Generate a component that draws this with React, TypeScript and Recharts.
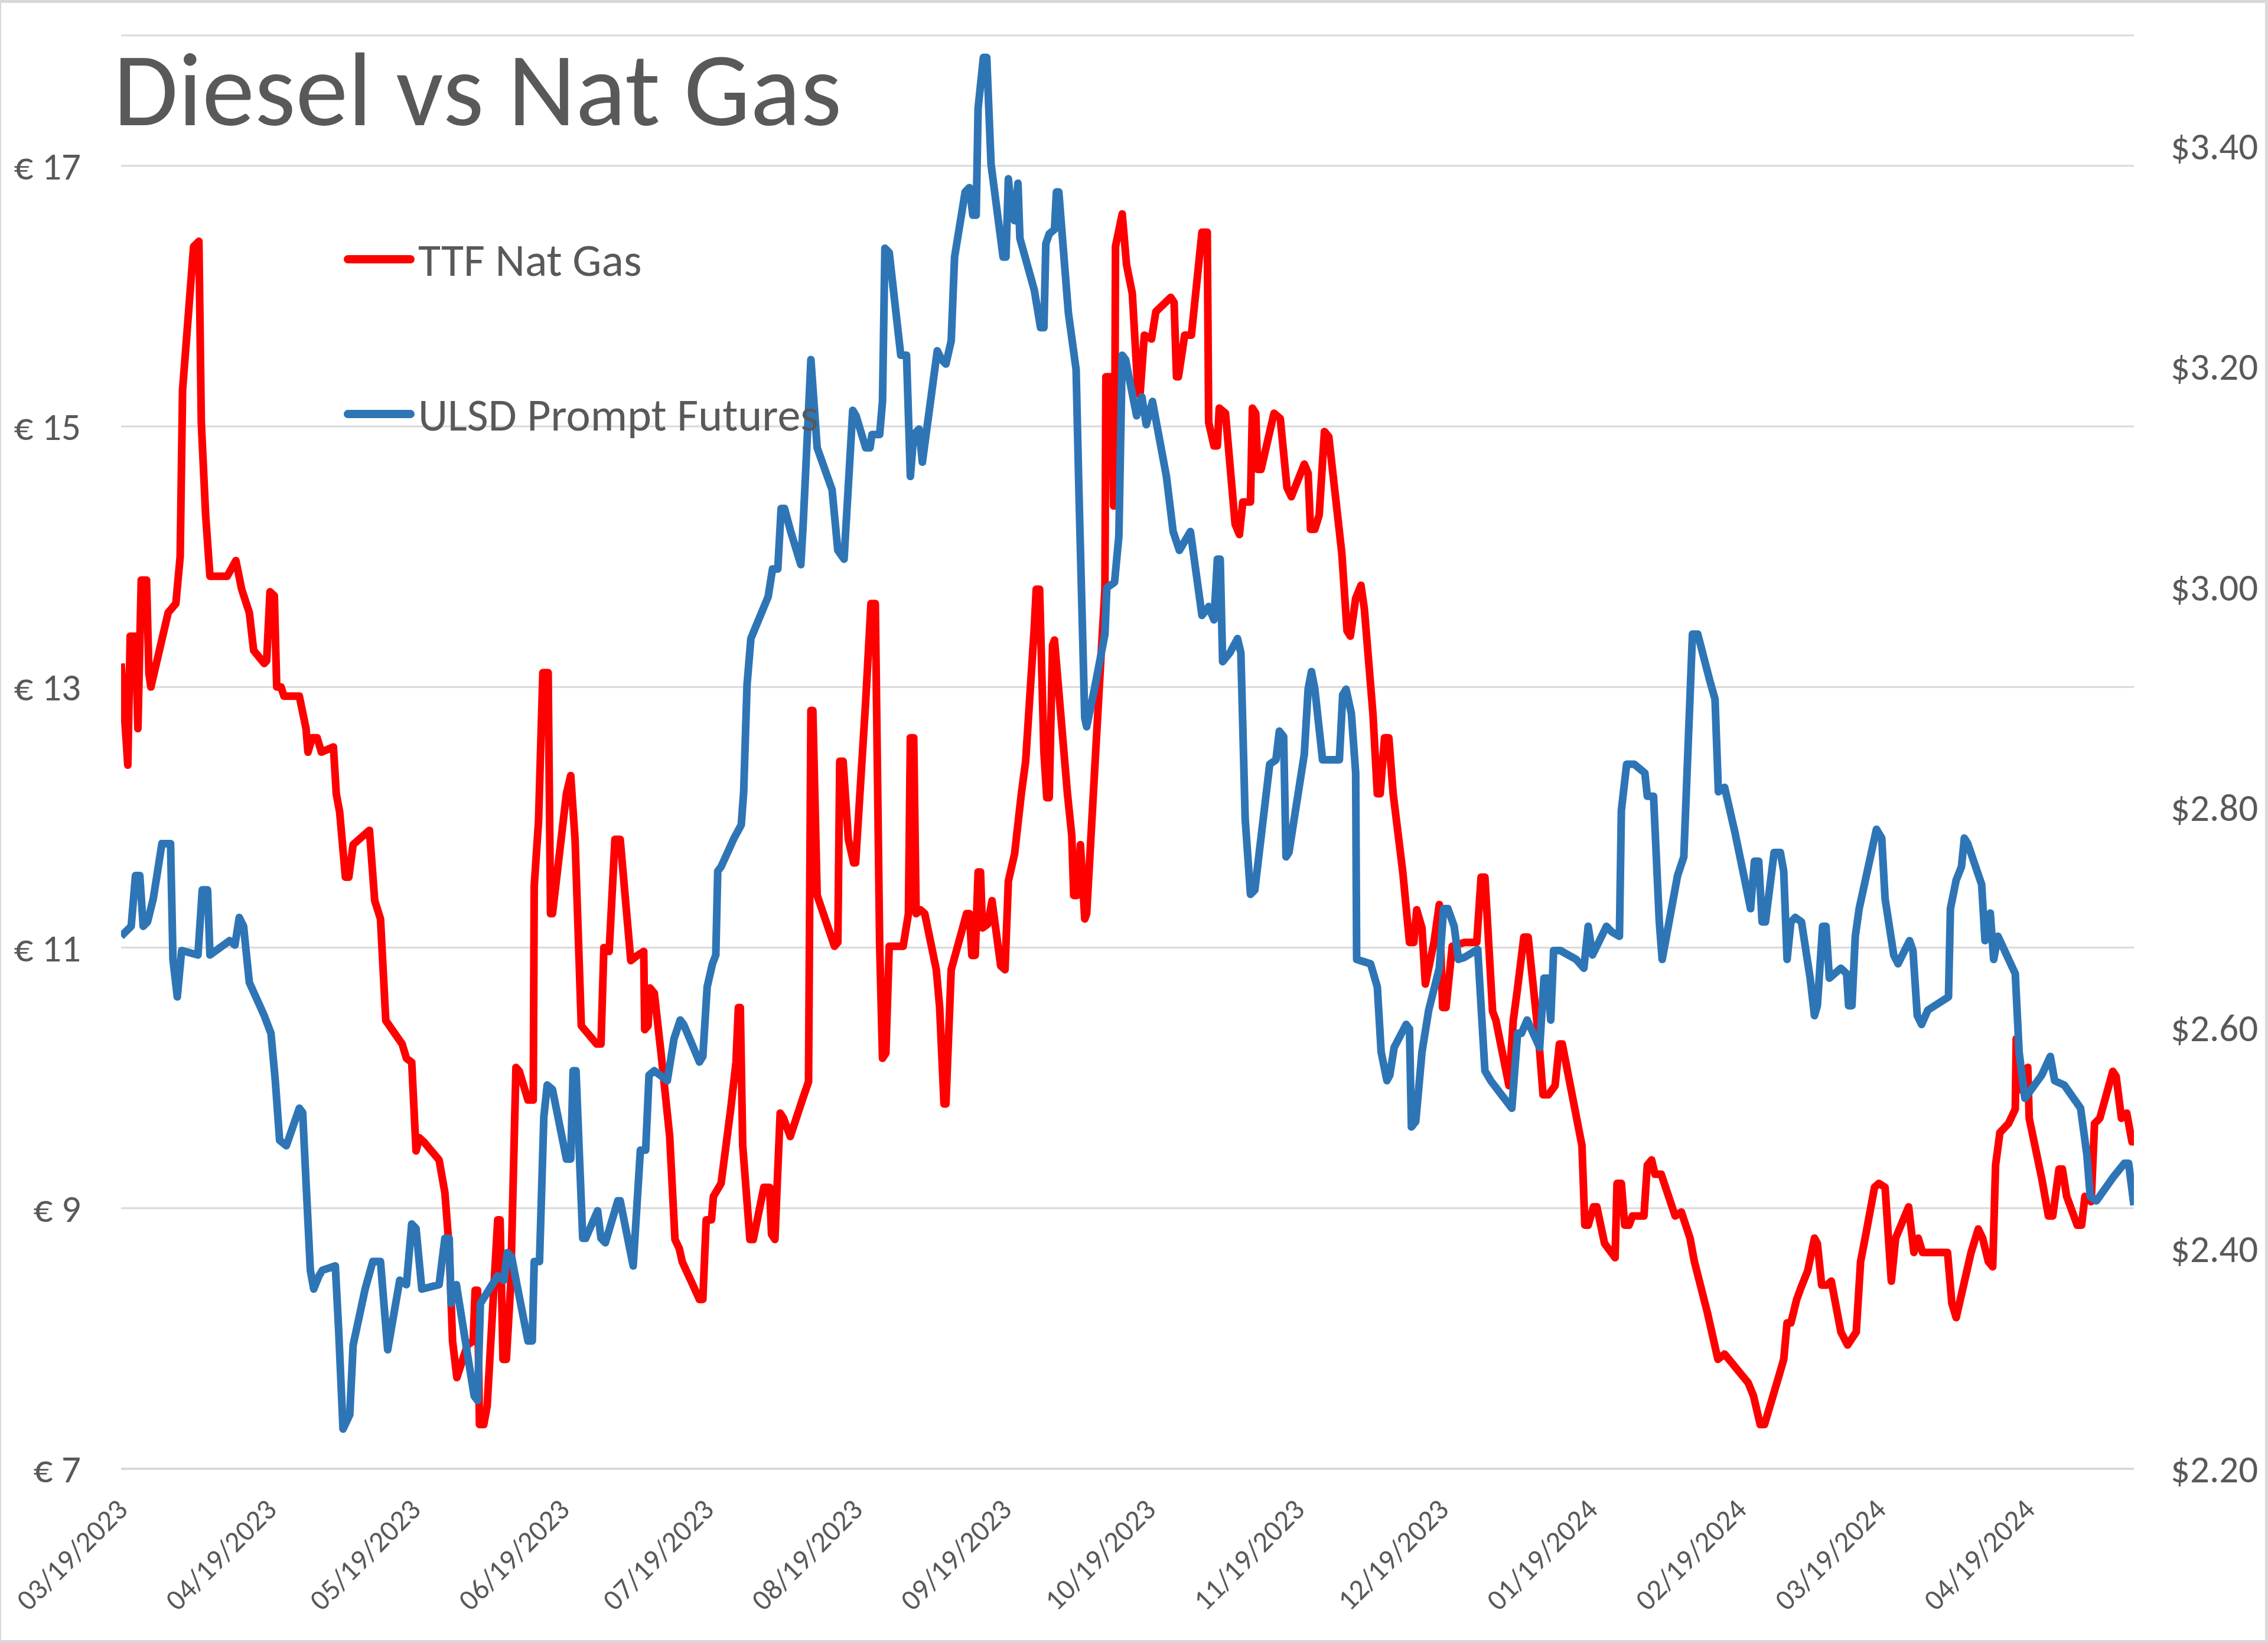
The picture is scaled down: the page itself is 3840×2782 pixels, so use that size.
import React from 'react'
import { LineChart, Line, XAxis, YAxis, CartesianGrid, Legend } from 'recharts'

// axis dates, counted in days from the first date
const START = Date.UTC(2023, 2, 19)
const DAY_MS = 86400000

const tickLabels = [
  '03/19/2023', '04/19/2023', '05/19/2023', '06/19/2023', '07/19/2023', '08/19/2023', '09/19/2023',
  '10/19/2023', '11/19/2023', '12/19/2023', '01/19/2024', '02/19/2024', '03/19/2024', '04/19/2024',
]

const euroTicks = [7, 9, 11, 13, 15, 17]
const dollarTicks = [2.2, 2.4, 2.6, 2.8, 3.0, 3.2, 3.4]

// TTF Nat Gas (left axis, EUR)
const ttfDays = [
  0, 1.4, 1.9, 3.0, 3.5, 4.2, 5.3, 5.8, 6.2, 9.8, 11.4, 12.3, 12.8, 15.1, 16.2, 16.7, 17.6, 18.5, 22.1, 23.9,
  25.1, 26.7, 27.6, 29.8, 30.3, 31.0, 31.9, 32.4, 33.3, 33.9, 37.1, 38.5, 38.9, 39.8, 40.8, 41.7, 44.2, 44.8, 45.5, 46.7,
  47.4, 48.3, 51.7, 52.8, 54.0, 55.1, 58.5, 59.4, 60.5, 61.4, 62.1, 63.0, 66.2, 67.4, 68.3, 69.0, 69.9, 72.1, 73.3, 73.7,
  74.2, 74.6, 75.5, 76.2, 78.4, 78.9, 79.5, 80.2, 81.1, 82.2, 82.9, 84.7, 85.8, 86.0, 86.9, 87.8, 88.9, 89.4, 89.8, 92.7,
  93.6, 94.5, 95.8, 99.0, 99.9, 100.5, 101.6, 102.8, 103.9, 106.1, 107.5, 108.8, 109.0, 109.7, 110.1, 111.0, 112.4, 114.2, 115.3, 116.2,
  116.8, 120.4, 121.1, 121.8, 122.9, 123.3, 124.9, 126.9, 128.0, 128.5, 128.9, 129.4, 130.9, 131.6, 133.8, 135.0, 135.4, 136.1, 137.2, 137.9,
  139.3, 141.8, 143.1, 143.6, 144.0, 144.9, 148.5, 149.2, 149.6, 150.3, 151.4, 152.5, 152.9, 155.0, 156.1, 157.0, 157.9, 158.5, 159.2, 159.9,
  162.8, 163.9, 164.3, 165.0, 165.5, 166.4, 167.3, 169.7, 170.4, 171.3, 171.7, 172.8, 176.0, 176.6, 177.1, 177.8, 178.4, 178.9, 179.3, 180.4,
  181.3, 183.1, 184.0, 184.7, 186.0, 187.4, 188.3, 190.1, 190.5, 191.2, 192.1, 192.7, 193.2, 193.9, 194.3, 197.0, 197.9, 198.3, 199.0, 199.7,
  200.6, 201.0, 202.6, 203.9, 204.8, 205.0, 206.2, 206.6, 206.8, 207.0, 208.4, 209.3, 210.5, 211.6, 212.1, 213.0, 214.5, 215.4, 218.5, 219.2,
  219.7, 220.1, 221.4, 222.8, 225.0, 226.1, 226.4, 227.5, 228.2, 228.6, 229.9, 231.9, 232.8, 233.5, 235.1, 235.5, 236.2, 236.6, 237.3, 240.0,
  241.3, 242.7, 243.6, 246.3, 247.1, 247.6, 248.5, 249.4, 250.5, 251.4, 254.1, 255.2, 255.9, 257.0, 258.1, 258.8, 260.6, 261.5, 262.1, 263.0,
  263.9, 264.8, 266.8, 268.2, 269.1, 269.7, 270.8, 271.5, 273.3, 274.4, 275.1, 275.8, 277.1, 279.7, 282.2, 283.1, 283.9, 285.5, 286.2, 288.9,
  289.8, 290.7, 292.0, 292.9, 295.1, 296.0, 297.1, 298.5, 299.4, 300.0, 304.1, 304.7, 305.4, 306.5, 307.2, 308.8, 311.0, 311.4, 312.3, 313.0,
  313.9, 314.6, 317.0, 317.7, 318.6, 319.3, 320.6, 323.5, 324.8, 326.6, 327.5, 330.2, 332.4, 333.8, 338.7, 339.8, 341.2, 342.1, 345.0, 346.1,
  346.8, 347.6, 348.8, 349.8, 351.1, 352.5, 353.1, 354.0, 355.1, 356.0, 358.0, 359.4, 361.2, 362.1, 363.2, 365.0, 365.9, 367.2, 368.5, 369.4,
  372.1, 373.2, 374.1, 375.0, 380.2, 381.1, 382.0, 383.3, 385.1, 386.6, 387.5, 388.7, 389.6, 390.2, 391.1, 392.9, 394.3, 394.5, 395.8, 396.9,
  397.2, 399.8, 401.2, 402.1, 403.4, 404.1, 405.0, 407.2, 408.1, 408.8, 410.1, 410.8, 411.9, 414.6, 415.3, 416.4, 417.5, 418.6, 419.0,
]
const ttfPrices = [
  13.18, 12.4, 13.39, 13.39, 12.68, 13.82, 13.82, 13.1, 13.0, 13.57, 13.64, 14.0, 15.28, 16.38, 16.42, 15.03, 14.32, 13.85, 13.85, 13.97,
  13.75, 13.57, 13.28, 13.18, 13.2, 13.73, 13.7, 13.0, 13.0, 12.93, 12.93, 12.68, 12.5, 12.61, 12.61, 12.5, 12.54, 12.18, 12.04, 11.54,
  11.54, 11.79, 11.9, 11.36, 11.22, 10.44, 10.26, 10.15, 10.12, 9.44, 9.54, 9.51, 9.37, 9.12, 8.69, 7.98, 7.7, 7.95, 7.98, 8.37,
  8.37, 7.34, 7.34, 7.48, 8.91, 8.91, 7.84, 7.84, 8.41, 10.08, 10.05, 9.83, 9.83, 11.47, 11.97, 13.11, 13.11, 11.26, 11.26, 12.18,
  12.32, 11.83, 10.4, 10.26, 10.26, 11.0, 10.97, 11.83, 11.83, 10.9, 10.94, 10.97, 10.37, 10.4, 10.69, 10.65, 10.19, 9.55, 8.76, 8.69,
  8.59, 8.3, 8.3, 8.91, 8.91, 9.09, 9.19, 9.76, 10.12, 10.54, 10.54, 9.48, 8.76, 8.76, 9.16, 9.16, 8.8, 8.76, 9.73, 9.69,
  9.55, 9.83, 9.97, 12.82, 12.82, 11.4, 11.01, 11.04, 12.43, 12.43, 11.83, 11.65, 11.65, 12.89, 13.64, 13.64, 11.04, 10.15, 10.19, 11.01,
  11.01, 11.26, 12.61, 12.61, 11.26, 11.29, 11.26, 10.83, 10.54, 9.8, 9.8, 10.83, 11.26, 11.26, 10.94, 10.94, 11.58, 11.58, 11.15, 11.18,
  11.36, 10.86, 10.83, 11.51, 11.72, 12.18, 12.43, 13.46, 13.75, 13.75, 12.5, 12.15, 12.15, 13.32, 13.36, 12.18, 11.86, 11.4, 11.4, 11.79,
  11.22, 11.26, 12.32, 13.18, 13.75, 15.38, 15.38, 14.39, 14.39, 16.38, 16.63, 16.24, 16.02, 15.31, 15.24, 15.7, 15.67, 15.88, 15.99, 15.95,
  15.38, 15.38, 15.7, 15.7, 16.49, 16.49, 15.03, 14.85, 14.85, 15.14, 15.1, 14.25, 14.17, 14.42, 14.42, 15.14, 15.1, 14.67, 14.67, 15.1,
  15.06, 14.53, 14.46, 14.71, 14.64, 14.21, 14.21, 14.32, 14.96, 14.92, 14.03, 13.43, 13.39, 13.68, 13.78, 13.6, 12.79, 12.18, 12.18, 12.61,
  12.61, 12.18, 11.58, 11.04, 11.04, 11.29, 11.15, 10.72, 11.04, 11.33, 10.54, 10.54, 11.01, 11.04, 11.04, 11.54, 11.54, 10.51, 10.44, 9.94,
  10.44, 10.69, 11.08, 11.08, 10.3, 9.87, 9.87, 9.94, 10.26, 10.26, 9.48, 8.87, 8.87, 9.01, 9.01, 8.73, 8.62, 9.19, 9.19, 8.87,
  8.87, 8.94, 8.94, 9.33, 9.37, 9.26, 9.26, 8.94, 8.97, 8.77, 8.59, 8.2, 7.84, 7.88, 7.66, 7.56, 7.34, 7.34, 7.7, 7.84,
  8.12, 8.12, 8.3, 8.4, 8.52, 8.77, 8.73, 8.41, 8.41, 8.44, 8.05, 7.95, 8.05, 8.59, 8.8, 9.16, 9.19, 9.16, 8.44, 8.77,
  9.01, 8.66, 8.77, 8.66, 8.66, 8.27, 8.16, 8.37, 8.66, 8.84, 8.77, 8.59, 8.55, 9.33, 9.58, 9.65, 9.76, 10.3, 9.9, 10.08,
  9.69, 9.23, 8.94, 8.94, 9.3, 9.3, 9.09, 8.87, 8.87, 9.09, 9.05, 9.65, 9.69, 10.05, 10.01, 9.69, 9.73, 9.51, 9.51,
]

// ULSD Prompt Futures (right axis, USD)
const ulsdDays = [
  0, 2.1, 3.0, 3.9, 4.6, 5.5, 6.7, 8.5, 10.3, 10.8, 11.7, 12.6, 16.0, 16.9, 18.0, 18.5, 22.6, 23.7, 24.6, 25.5,
  26.7, 29.8, 31.2, 32.1, 33.0, 34.4, 37.1, 37.8, 38.5, 39.4, 40.1, 41.2, 41.9, 44.6, 45.3, 46.2, 47.6, 48.3, 50.8, 52.4,
  54.0, 55.5, 58.0, 59.4, 60.5, 61.4, 62.6, 66.2, 67.4, 68.3, 68.7, 69.8, 72.1, 73.5, 74.2, 74.8, 78.4, 79.7, 80.4, 81.3,
  82.4, 84.7, 85.6, 86.0, 87.1, 88.0, 88.7, 89.8, 92.7, 93.6, 94.1, 94.7, 96.1, 96.7, 99.2, 99.9, 100.8, 103.4, 103.9, 106.6,
  108.1, 109.2, 109.9, 111.0, 113.7, 115.1, 116.4, 117.1, 120.4, 121.1, 122.0, 123.1, 123.8, 124.2, 124.9, 127.6, 129.1, 129.6, 130.3, 131.1,
  134.7, 135.6, 136.7, 137.4, 138.1, 139.4, 141.5, 142.0, 143.6, 144.9, 148.0, 149.2, 150.5, 152.3, 153.0, 155.0, 155.9, 156.3, 157.9, 158.5,
  159.0, 159.9, 162.3, 163.5, 164.3, 165.0, 166.1, 166.8, 169.9, 170.8, 171.7, 172.8, 173.5, 175.7, 176.6, 177.3, 178.0, 178.4, 179.5, 180.2,
  181.1, 183.6, 184.2, 184.7, 185.4, 186.0, 186.7, 187.1, 190.1, 191.4, 192.1, 192.5, 193.2, 194.3, 194.7, 195.2, 197.2, 198.8, 199.4, 200.6,
  201.0, 202.6, 204.8, 205.2, 206.8, 207.7, 208.4, 209.1, 211.4, 212.5, 213.4, 214.7, 217.6, 219.0, 220.3, 222.6, 225.0, 226.4, 227.5, 228.2,
  228.8, 229.3, 230.8, 232.4, 233.1, 234.0, 235.1, 236.0, 239.1, 240.4, 241.1, 242.0, 242.5, 243.1, 246.3, 247.1, 247.8, 248.5, 250.1, 253.6,
  254.3, 255.0, 256.1, 257.0, 257.2, 260.1, 261.5, 262.3, 263.5, 264.1, 265.0, 267.5, 268.2, 268.6, 269.5, 270.8, 272.2, 274.4, 275.3, 276.2,
  277.5, 278.4, 279.7, 282.4, 283.9, 285.1, 289.5, 290.7, 291.5, 292.7, 295.3, 296.2, 296.9, 297.6, 298.2, 299.6, 302.9, 304.5, 305.4, 306.3,
  309.2, 310.3, 311.9, 312.3, 313.4, 315.0, 317.2, 317.7, 319.0, 320.2, 320.8, 324.0, 325.3, 327.1, 328.2, 330.7, 331.8, 332.5, 333.8, 336.0,
  337.8, 339.2, 340.0, 340.9, 341.6, 342.3, 344.1, 345.4, 346.1, 346.8, 347.6, 348.5, 349.8, 351.6, 352.5, 353.1, 354.2, 354.9, 355.6, 358.0,
  359.2, 359.6, 360.3, 361.0, 361.8, 365.4, 366.5, 367.2, 369.0, 369.9, 372.3, 373.0, 373.9, 374.8, 376.1, 380.4, 380.8, 382.0, 383.1, 383.7,
  384.4, 387.3, 388.0, 389.1, 389.8, 390.7, 394.3, 395.1, 396.3, 399.8, 401.6, 402.5, 404.5, 407.9, 409.2, 409.9, 411.2, 414.6, 417.0, 417.9,
  419.0,
]
const ulsdPrices = [
  2.683, 2.692, 2.738, 2.738, 2.692, 2.696, 2.717, 2.767, 2.767, 2.662, 2.628, 2.67, 2.666, 2.725, 2.725, 2.666, 2.679, 2.675, 2.7, 2.692,
  2.641, 2.611, 2.595, 2.552, 2.498, 2.493, 2.527, 2.523, 2.46, 2.38, 2.363, 2.375, 2.38, 2.384, 2.325, 2.236, 2.249, 2.312, 2.363, 2.388,
  2.388, 2.308, 2.371, 2.367, 2.422, 2.418, 2.363, 2.367, 2.409, 2.409, 2.35, 2.367, 2.304, 2.266, 2.262, 2.35, 2.375, 2.371, 2.396, 2.392,
  2.367, 2.316, 2.316, 2.388, 2.388, 2.519, 2.548, 2.544, 2.481, 2.481, 2.561, 2.561, 2.409, 2.409, 2.434, 2.409, 2.405, 2.443, 2.443, 2.384,
  2.489, 2.489, 2.557, 2.561, 2.552, 2.59, 2.607, 2.603, 2.569, 2.574, 2.637, 2.658, 2.666, 2.742, 2.746, 2.772, 2.784, 2.814, 2.911, 2.953,
  2.991, 3.016, 3.016, 3.071, 3.071, 3.05, 3.02, 3.058, 3.206, 3.126, 3.088, 3.033, 3.025, 3.16, 3.155, 3.126, 3.126, 3.138, 3.138, 3.168,
  3.307, 3.303, 3.21, 3.21, 3.1, 3.138, 3.143, 3.113, 3.214, 3.206, 3.202, 3.223, 3.299, 3.358, 3.362, 3.337, 3.337, 3.434, 3.48, 3.48,
  3.383, 3.299, 3.299, 3.37, 3.337, 3.332, 3.366, 3.316, 3.269, 3.235, 3.235, 3.311, 3.32, 3.324, 3.358, 3.358, 3.248, 3.197, 3.084, 2.881,
  2.873, 2.907, 2.957, 2.999, 3.004, 3.046, 3.21, 3.206, 3.155, 3.172, 3.147, 3.168, 3.1, 3.05, 3.033, 3.05, 2.974, 2.982, 2.97, 3.025,
  3.025, 2.932, 2.94, 2.953, 2.94, 2.789, 2.721, 2.725, 2.839, 2.843, 2.869, 2.864, 2.755, 2.759, 2.848, 2.907, 2.923, 2.907, 2.843, 2.843,
  2.902, 2.907, 2.885, 2.831, 2.662, 2.658, 2.637, 2.578, 2.552, 2.557, 2.582, 2.603, 2.599, 2.51, 2.515, 2.578, 2.616, 2.654, 2.708, 2.708,
  2.692, 2.662, 2.664, 2.671, 2.561, 2.552, 2.527, 2.595, 2.595, 2.607, 2.582, 2.645, 2.645, 2.607, 2.67, 2.67, 2.662, 2.654, 2.692, 2.666,
  2.692, 2.687, 2.683, 2.797, 2.839, 2.839, 2.831, 2.81, 2.81, 2.696, 2.662, 2.738, 2.755, 2.957, 2.957, 2.915, 2.898, 2.814, 2.818, 2.776,
  2.738, 2.708, 2.751, 2.751, 2.696, 2.696, 2.759, 2.759, 2.742, 2.662, 2.696, 2.7, 2.696, 2.645, 2.611, 2.62, 2.692, 2.692, 2.645, 2.654,
  2.649, 2.62, 2.62, 2.683, 2.708, 2.78, 2.772, 2.717, 2.666, 2.658, 2.679, 2.67, 2.611, 2.603, 2.616, 2.628, 2.708, 2.734, 2.746, 2.772,
  2.767, 2.73, 2.679, 2.704, 2.662, 2.683, 2.649, 2.578, 2.536, 2.557, 2.574, 2.552, 2.548, 2.527, 2.485, 2.447, 2.443, 2.464, 2.477, 2.477,
  2.439,
]

const toDay = (label: string) => {
  const [m, d, y] = label.split('/').map(Number)
  return (Date.UTC(y, m - 1, d) - START) / DAY_MS
}
const tickDays = tickLabels.map(toDay)

const ttfData = ttfDays.map((day, i) => ({ day, price: ttfPrices[i] }))
const ulsdData = ulsdDays.map((day, i) => ({ day, price: ulsdPrices[i] }))

const FONT = 'Calibri, Carlito, Lato, sans-serif'
const GREY = '#595959'
const GRID = '#D9D9D9'

function DateTick({ x, y, payload }: any) {
  const label = tickLabels[tickDays.indexOf(payload.value)]
  const tx = x + 14
  const ty = y + 72
  return (
    <text x={tx} y={ty} transform={`rotate(-45, ${tx}, ${ty})`} textAnchor="end" fill={GREY} fontSize={50} fontFamily={FONT}>
      {label}
    </text>
  )
}

function renderLegend({ payload }: any) {
  return (
    <svg width={1500} height={800}>
      {(payload || []).map((item: any, i: number) => {
        const cy = 439 + i * 262
        return (
          <g key={item.value}>
            <line x1={589} x2={695} y1={cy} y2={cy} stroke={item.color} strokeWidth={14} strokeLinecap="round" />
            <text x={708} y={cy} dy="0.36em" fill={GREY} fontSize={78} fontFamily={FONT}>
              {item.value}
            </text>
          </g>
        )
      })}
    </svg>
  )
}

export default function App() {
  return (
    <div style={{ position: 'relative', width: 3840, height: 2782, background: '#fff' }}>
      <style>{'body { margin: 0; }'}</style>
      <LineChart width={3840} height={2782} margin={{ top: 60, right: 0, bottom: 0, left: 0 }}>
        <CartesianGrid yAxisId="left" vertical={false} stroke={GRID} strokeWidth={3} />
        <XAxis
          type="number"
          dataKey="day"
          domain={[0, 419]}
          ticks={tickDays}
          interval={0}
          height={295}
          tick={<DateTick />}
          tickLine={false}
          tickSize={0}
          tickMargin={0}
          axisLine={{ stroke: GRID, strokeWidth: 4 }}
          allowDataOverflow
        />
        <YAxis
          yAxisId="left"
          orientation="left"
          width={205}
          domain={[7, 18]}
          ticks={euroTicks}
          interval={0}
          tickFormatter={(v: number) => `€ ${v}`}
          axisLine={false}
          tickLine={false}
          tickSize={0}
          tickMargin={68}
          tick={{ fill: GREY, fontSize: 65, fontFamily: FONT }}
          allowDataOverflow
        />
        <YAxis
          yAxisId="right"
          orientation="right"
          width={227}
          domain={[2.2, 3.5]}
          ticks={dollarTicks}
          interval={0}
          tickFormatter={(v: number) => `$${v.toFixed(2)}`}
          axisLine={false}
          tickLine={false}
          tickSize={0}
          tickMargin={62}
          tick={{ fill: GREY, fontSize: 65, fontFamily: FONT }}
          allowDataOverflow
        />
        <Legend
          layout="horizontal"
          verticalAlign="middle"
          align="center"
          wrapperStyle={{ left: 0, top: 0, width: 1500, height: 800 }}
          content={renderLegend}
        />
        <Line
          yAxisId="left"
          data={ttfData}
          dataKey="price"
          name="TTF Nat Gas"
          stroke="#FF0000"
          strokeWidth={13}
          strokeLinejoin="round"
          dot={false}
          activeDot={false}
          isAnimationActive={false}
        />
        <Line
          yAxisId="right"
          data={ulsdData}
          dataKey="price"
          name="ULSD Prompt Futures"
          stroke="#2E75B6"
          strokeWidth={13}
          strokeLinejoin="round"
          dot={false}
          activeDot={false}
          isAnimationActive={false}
        />
      </LineChart>
      <svg width={3840} height={300} style={{ position: 'absolute', left: 0, top: 0, pointerEvents: 'none' }}>
        <text x={192} y={212} fill={GREY} fontSize={178} fontFamily={FONT}>
          Diesel vs Nat Gas
        </text>
      </svg>
      <div
        style={{
          position: 'absolute',
          inset: 0,
          boxSizing: 'border-box',
          borderStyle: 'solid',
          borderColor: GRID,
          borderWidth: '5px 5px 5px 2px',
          pointerEvents: 'none',
        }}
      />
    </div>
  )
}
